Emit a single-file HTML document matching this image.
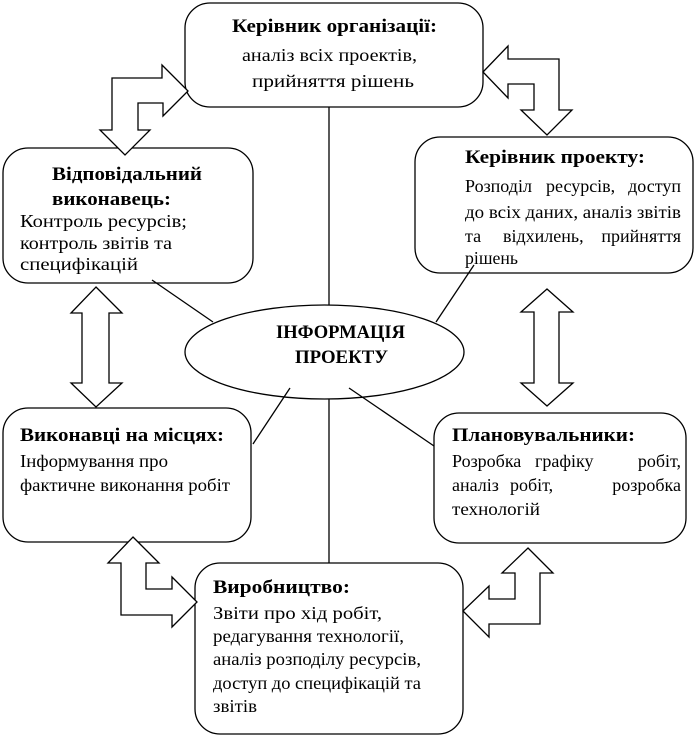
<!DOCTYPE html>
<html><head><meta charset="utf-8"><style>
html,body{margin:0;padding:0;background:#fff;}
svg{display:block;}
text{font-family:"Liberation Serif","Noto Serif CJK SC",serif;fill:#000;}
.t{font-weight:bold;font-size:19px;}
.b{font-size:18px;}
</style></head><body>
<svg width="697" height="738" viewBox="0 0 697 738" xmlns="http://www.w3.org/2000/svg">
<g fill="none" stroke="#000" stroke-width="1.3">
  <line x1="329" y1="107" x2="329" y2="305"/>
  <line x1="329" y1="399" x2="329" y2="563"/>
  <line x1="152" y1="280" x2="213" y2="322"/>
  <line x1="436" y1="322" x2="474" y2="265"/>
  <line x1="290" y1="388" x2="253" y2="444"/>
  <line x1="349" y1="388" x2="434" y2="446"/>
  <rect x="185" y="3" width="298" height="104" rx="25"/>
  <rect x="3" y="148" width="250" height="135" rx="25"/>
  <rect x="415" y="137" width="278" height="136" rx="25"/>
  <rect x="3" y="408" width="248" height="134" rx="25"/>
  <rect x="434" y="413" width="252" height="130" rx="25"/>
  <rect x="195" y="563" width="268" height="171" rx="25"/>
  <ellipse cx="324.5" cy="352" rx="139.5" ry="47"/>
</g>
<g fill="#fff" stroke="#000" stroke-width="1.3" stroke-linejoin="miter">
  <polygon points="112,130 112,78 162,78 162,65 188,91 163,116 163,103 138,103 138,130 150,130 125,155 100,130"/>
  <polygon points="483,72 508,46 508,59 559,59 559,110 572,110 547,135 521,110 534,110 534,84 508,84 508,98"/>
  <polygon points="133,537 159,563 146,563 146,589 172,589 172,577 197,602 172,627 172,615 121,615 121,563 108,563"/>
  <polygon points="528,548 553,573 540,573 540,624 489,624 489,637 463,611 489,586 489,599 515,599 515,573 502,573"/>
  <polygon points="96,287 122,313 109,313 109,383 122,383 96,407 71,383 82,383 82,313 71,313"/>
  <polygon points="547,289 573,312 559,312 559,383 573,383 547,406 521,383 534,383 534,312 521,312"/>
</g>
<text class="t" x="232" y="32" textLength="205" lengthAdjust="spacingAndGlyphs">Керівник організації:</text>
<text class="b" x="242" y="61" textLength="175" lengthAdjust="spacingAndGlyphs">аналіз всіх проектів,</text>
<text class="b" x="252" y="87" textLength="162" lengthAdjust="spacingAndGlyphs">прийняття рішень</text>
<text class="t" x="52" y="180" textLength="150" lengthAdjust="spacingAndGlyphs">Відповідальний</text>
<text class="t" x="52" y="205" textLength="119" lengthAdjust="spacingAndGlyphs">виконавець:</text>
<text class="b" x="20" y="227" textLength="167" lengthAdjust="spacingAndGlyphs">Контроль ресурсів;</text>
<text class="b" x="20" y="249" textLength="152" lengthAdjust="spacingAndGlyphs">контроль звітів та</text>
<text class="b" x="20" y="270" textLength="118" lengthAdjust="spacingAndGlyphs">специфікацій</text>
<text class="t" x="465" y="163" textLength="180" lengthAdjust="spacingAndGlyphs">Керівник проекту:</text>
<text class="b" y="192"><tspan x="465">Розподіл</tspan><tspan x="546">ресурсів,</tspan><tspan x="681" text-anchor="end">доступ</tspan></text>
<text class="b" x="465" y="218" textLength="216" lengthAdjust="spacingAndGlyphs">до всіх даних, аналіз звітів</text>
<text class="b" y="242"><tspan x="465">та</tspan><tspan x="503">відхилень,</tspan><tspan x="681" text-anchor="end">прийняття</tspan></text>
<text class="b" x="465" y="264" textLength="53" lengthAdjust="spacingAndGlyphs">рішень</text>
<text class="t" x="276" y="338" font-size="17" textLength="129" lengthAdjust="spacingAndGlyphs">ІНФОРМАЦІЯ</text>
<text class="t" x="295" y="363" font-size="17" textLength="93" lengthAdjust="spacingAndGlyphs">ПРОЕКТУ</text>
<text class="t" x="20" y="441" textLength="204" lengthAdjust="spacingAndGlyphs">Виконавці на місцях:</text>
<text class="b" x="20" y="467" textLength="148" lengthAdjust="spacingAndGlyphs">Інформування про</text>
<text class="b" x="20" y="491" textLength="210" lengthAdjust="spacingAndGlyphs">фактичне виконання робіт</text>
<text class="t" x="452" y="441" textLength="183" lengthAdjust="spacingAndGlyphs">Плановувальники:</text>
<text class="b" y="467"><tspan x="452">Розробка</tspan><tspan x="535">графіку</tspan><tspan x="681" text-anchor="end">робіт,</tspan></text>
<text class="b" y="491"><tspan x="452">аналіз</tspan><tspan x="510">робіт,</tspan><tspan x="681" text-anchor="end">розробка</tspan></text>
<text class="b" x="452" y="515" textLength="88" lengthAdjust="spacingAndGlyphs">технологій</text>
<text class="t" x="213" y="593" textLength="137" lengthAdjust="spacingAndGlyphs">Виробництво:</text>
<text class="b" x="213" y="619" textLength="169" lengthAdjust="spacingAndGlyphs">Звіти про хід робіт,</text>
<text class="b" x="213" y="642" textLength="191" lengthAdjust="spacingAndGlyphs">редагування технології,</text>
<text class="b" x="213" y="665" textLength="208" lengthAdjust="spacingAndGlyphs">аналіз розподілу ресурсів,</text>
<text class="b" x="213" y="689" textLength="208" lengthAdjust="spacingAndGlyphs">доступ до специфікацій та</text>
<text class="b" x="213" y="712" textLength="44" lengthAdjust="spacingAndGlyphs">звітів</text>
</svg>
</body></html>
